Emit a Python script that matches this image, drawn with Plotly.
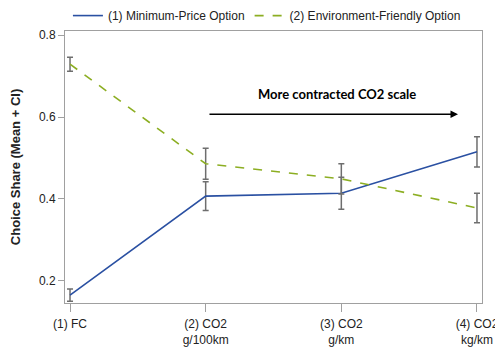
import plotly.graph_objects as go

categories = ["(1) FC", "(2) CO2<br>g/100km", "(3) CO2<br>g/km", "(4) CO2<br>kg/km"]
min_price = [0.165, 0.407, 0.414, 0.515]
min_price_ci = [0.015, 0.035, 0.039, 0.037]
env_friendly = [0.729, 0.486, 0.449, 0.378]
env_friendly_ci = [0.017, 0.038, 0.037, 0.036]

blue = "#2a50a2"
green = "#8cae22"
err_col = "#6e6e6e"

fig = go.Figure()
fig.add_trace(go.Scatter(
    x=categories, y=min_price, mode="lines", name="(1) Minimum-Price Option",
    line=dict(color=blue, width=1.6),
    error_y=dict(type="data", array=min_price_ci, color=err_col, thickness=1.5, width=3),
))
fig.add_trace(go.Scatter(
    x=categories, y=env_friendly, mode="lines", name="(2) Environment-Friendly Option",
    line=dict(color=green, width=1.6, dash="dash"),
    error_y=dict(type="data", array=env_friendly_ci, color=err_col, thickness=1.5, width=3),
))

fig.add_annotation(
    x=2.86, y=0.607, ax=1.017, ay=0.607, xref="x", yref="y", axref="x", ayref="y",
    text="", showarrow=True, arrowhead=2, arrowsize=1, arrowwidth=1.5, arrowcolor="black",
)
fig.add_annotation(
    x=1.965, y=0.656, xref="x", yref="y", text="<b>More contracted CO2 scale</b>",
    showarrow=False, font=dict(family="Lato", size=13, color="black"),
)

axis_col = "#a0a0a0"
fig.update_xaxes(
    type="category", range=[-0.037, 3.037], showline=True, linecolor=axis_col, mirror=True,
    ticks="outside", ticklen=8, tickcolor=axis_col, showgrid=False, zeroline=False,
    ticklabelstandoff=2,
    tickfont=dict(family="Liberation Sans", size=12, color="#222"), automargin=False,
)
fig.update_yaxes(
    range=[0.146, 0.81], tickvals=[0.2, 0.4, 0.6, 0.8], ticktext=["0.2", "0.4", "0.6", "0.8"],
    showline=True, linecolor=axis_col, mirror=True,
    ticks="outside", ticklen=6, tickcolor=axis_col, showgrid=False, zeroline=False,
    tickfont=dict(family="Liberation Sans", size=12, color="#222"), automargin=False,
    title=dict(text="<b>Choice Share (Mean + CI)</b>", font=dict(family="Liberation Sans", size=13, color="#222"), standoff=16),
)
fig.update_layout(
    width=503, height=349, margin=dict(l=57, r=29, t=23, b=54, autoexpand=False),
    paper_bgcolor="white", plot_bgcolor="white",
    showlegend=True,
    legend=dict(orientation="h", x=0.007, y=1.11, yanchor="top", xanchor="left",
                font=dict(family="Liberation Sans", size=12, color="#222"),
                bgcolor="rgba(0,0,0,0)", tracegroupgap=0),
)
fig.write_html("out.html")
